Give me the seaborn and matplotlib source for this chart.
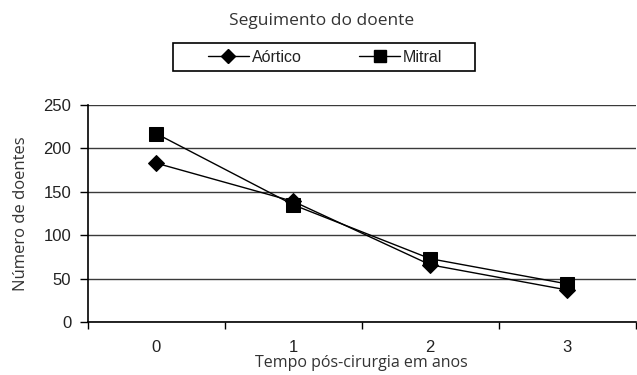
import pandas as pd
import seaborn as sns
import matplotlib.pyplot as plt
from matplotlib.patches import Rectangle
from matplotlib.ticker import FixedLocator

# dados
anos = [0, 1, 2, 3]
aortico = [183, 139, 66, 37]
mitral = [217, 135, 73, 44]
series = ["Aórtico", "Mitral"]


def main():
    sns.set_theme(style="white")
    plt.rcParams["font.family"] = ["Open Sans", "DejaVu Sans"]

    df = pd.DataFrame({
        "ano": anos * 2,
        "doentes": aortico + mitral,
        "serie": [series[0]] * len(anos) + [series[1]] * len(anos),
    })

    fig = plt.figure(figsize=(6.37, 3.75), dpi=100)
    ax = fig.add_axes([0.138, 0.141, 0.86, 0.579])

    sns.lineplot(data=df, x="ano", y="doentes", style="serie", hue="serie",
                 palette=["black", "black"], markers=["D", "s"], dashes=False,
                 markersize=8.5, linewidth=1, markeredgecolor="black",
                 ax=ax, legend=False)
    # ajustar tamanho do quadrado
    ax.lines[1].set_markersize(9.5)

    ax.set_xlim(-0.5, 3.5)
    ax.set_ylim(0, 250)
    ax.set_yticks([0, 50, 100, 150, 200, 250])
    ax.yaxis.grid(True, color="#3a3a3a", linewidth=1)
    ax.set_axisbelow(True)

    ax.set_xticks(anos)
    ax.set_xticklabels([str(a) for a in anos])
    ax.xaxis.set_minor_locator(FixedLocator([-0.5, 0.5, 1.5, 2.5, 3.5]))
    ax.tick_params(axis="x", which="major", length=0, pad=13,
                   labelsize=12, labelcolor="#222222")
    ax.tick_params(axis="x", which="minor", length=5, width=1, color="black",
                   direction="out", bottom=True)
    ax.tick_params(axis="y", length=6, width=1, color="black", left=True,
                   direction="out", labelsize=12, labelcolor="#222222", pad=6)
    for lab in ax.get_xticklabels() + ax.get_yticklabels():
        lab.set_family(["Liberation Sans", "DejaVu Sans"])

    for s in ["top", "right"]:
        ax.spines[s].set_visible(False)
    for s in ["left", "bottom"]:
        ax.spines[s].set_color("black")
        ax.spines[s].set_linewidth(1.2)

    ax.set_xlabel("Tempo pós-cirurgia em anos", fontsize=11.5, color="#333333",
                  labelpad=0)
    ax.set_ylabel("Número de doentes", fontsize=12, color="#333333", labelpad=10)
    fig.text(0.505, 0.945, "Seguimento do doente", ha="center", va="center",
             fontsize=12.5, color="#333333")

    # caixa da legenda
    fig.add_artist(Rectangle((0.2716, 0.8107), 0.474, 0.0747,
                             transform=fig.transFigure, fill=False,
                             edgecolor="black", linewidth=1.2))

    handles = [
        plt.Line2D([], [], color="black", marker="D", markersize=7, linewidth=1),
        plt.Line2D([], [], color="black", marker="s", markersize=9, linewidth=1),
    ]
    leg = fig.legend(handles, series, loc="center", ncol=2,
                     bbox_to_anchor=(0.51, 0.848), frameon=False,
                     handlelength=2.6, columnspacing=3.6, handletextpad=0.15,
                     fontsize=11.5, borderaxespad=0, borderpad=0)
    for t in leg.get_texts():
        t.set_color("#222222")
        t.set_family(["Liberation Sans Narrow", "Liberation Sans", "DejaVu Sans"])

    fig.savefig("out.png", dpi=100)


if __name__ == "__main__":
    main()
